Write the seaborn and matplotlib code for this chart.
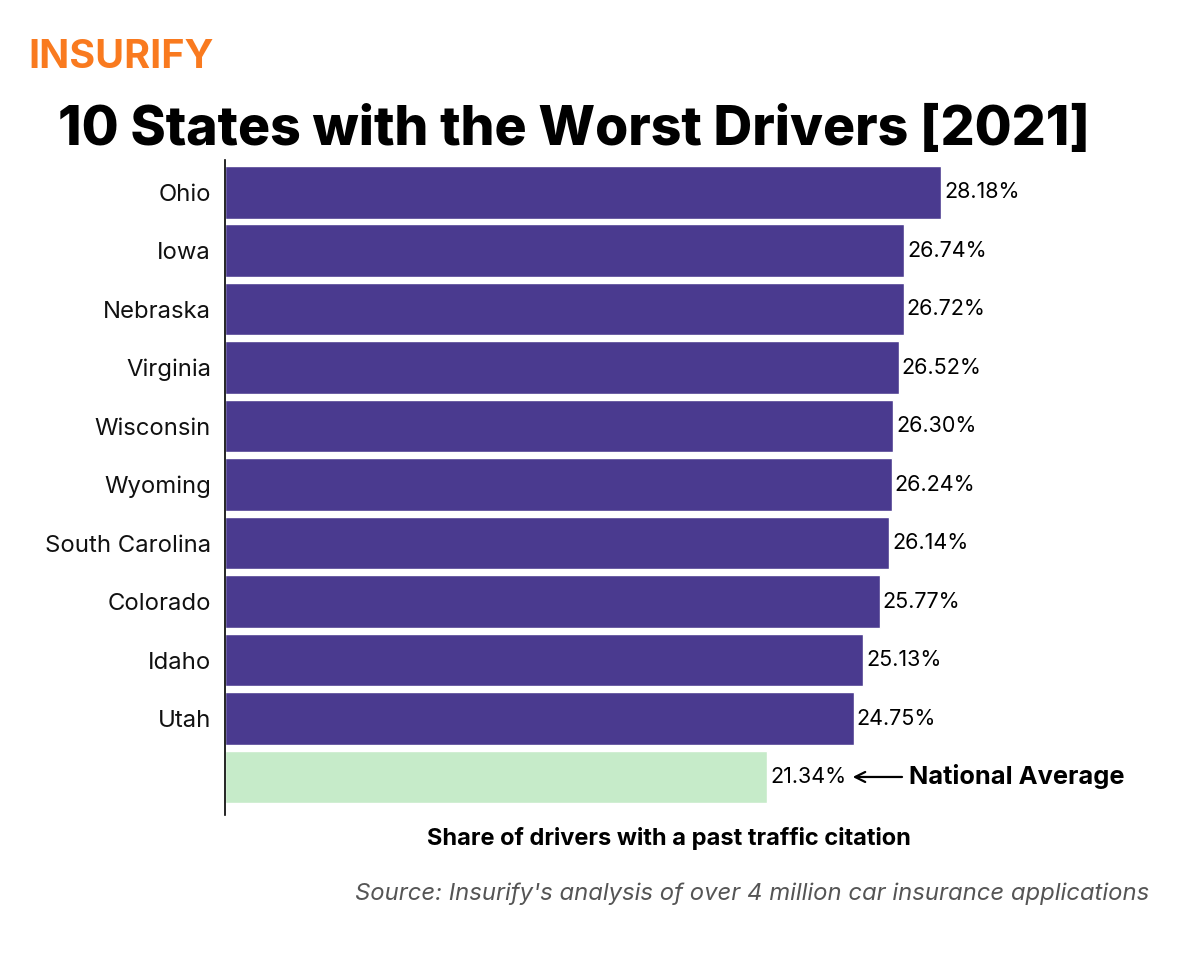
import pandas as pd
import matplotlib.pyplot as plt
import seaborn as sns

# Datos del grafico
states = ['Ohio', 'Iowa', 'Nebraska', 'Virginia', 'Wisconsin', 'Wyoming',
          'South Carolina', 'Colorado', 'Idaho', 'Utah', 'National Average']
shares = [28.18, 26.74, 26.72, 26.52, 26.30, 26.24, 26.14, 25.77, 25.13, 24.75, 21.34]
groups = ['state'] * 10 + ['avg']
tick_labels = states[:10] + ['']

df = pd.DataFrame({'state': states, 'share': shares, 'group': groups})

sns.set_style('white')
plt.rcParams['font.family'] = ['Inter', 'DejaVu Sans']

fig = plt.figure(figsize=(12, 9.56), dpi=100)
ax = fig.add_axes([0.1875, 0.1475, 0.796, 0.6851])

sns.barplot(data=df, x='share', y='state', hue='group', orient='h',
            palette={'state': '#4a3a8f', 'avg': '#c6ebc9'}, saturation=1,
            width=0.9, dodge=False, legend=False, ax=ax)

ax.set_xlim(0, 37.6)
ax.set_ylim(10.65, -0.55)
ax.set_xlabel('')
ax.set_ylabel('')
ax.set_xticks([])
ax.set_yticks(range(len(states)))
ax.set_yticklabels(tick_labels, fontsize=17.2, color='#111111')
ax.tick_params(axis='y', length=0, pad=10)
for s in ['top', 'right', 'bottom']:
    ax.spines[s].set_visible(False)
ax.spines['left'].set_color('black')
ax.spines['left'].set_linewidth(1.2)

# Etiquetas de valores
for i, v in enumerate(shares):
    ax.text(v + 0.12, i, f'{v:.2f}%', va='center', ha='left', fontsize=15.5, color='black')

# Flecha del promedio nacional
ax.annotate('', xy=(shares[-1] + 3.26, 10), xytext=(shares[-1] + 5.42, 10),
            arrowprops=dict(arrowstyle='->', color='black', lw=1.6, mutation_scale=18))
ax.text(shares[-1] + 5.58, 10, 'National Average', va='center', ha='left',
        fontsize=18.3, fontweight='bold', color='black')

# Textos de la figura
fig.text(0.0235, 0.94, 'INSURIFY', fontsize=28.5, fontweight='bold', color='#f97a1f',
         ha='left', va='center')
fig.text(0.048, 0.864, '10 States with the Worst Drivers [2021]', fontsize=38.6,
         fontweight='heavy', color='black', ha='left', va='center')
fig.text(0.5575, 0.123, 'Share of drivers with a past traffic citation', fontsize=17,
         fontweight='bold', color='black', ha='center', va='center')
fig.text(0.958, 0.065, "Source: Insurify's analysis of over 4 million car insurance applications",
         fontsize=17.2, style='italic', color='#555555', ha='right', va='center')

fig.savefig('out.png', dpi=100)
